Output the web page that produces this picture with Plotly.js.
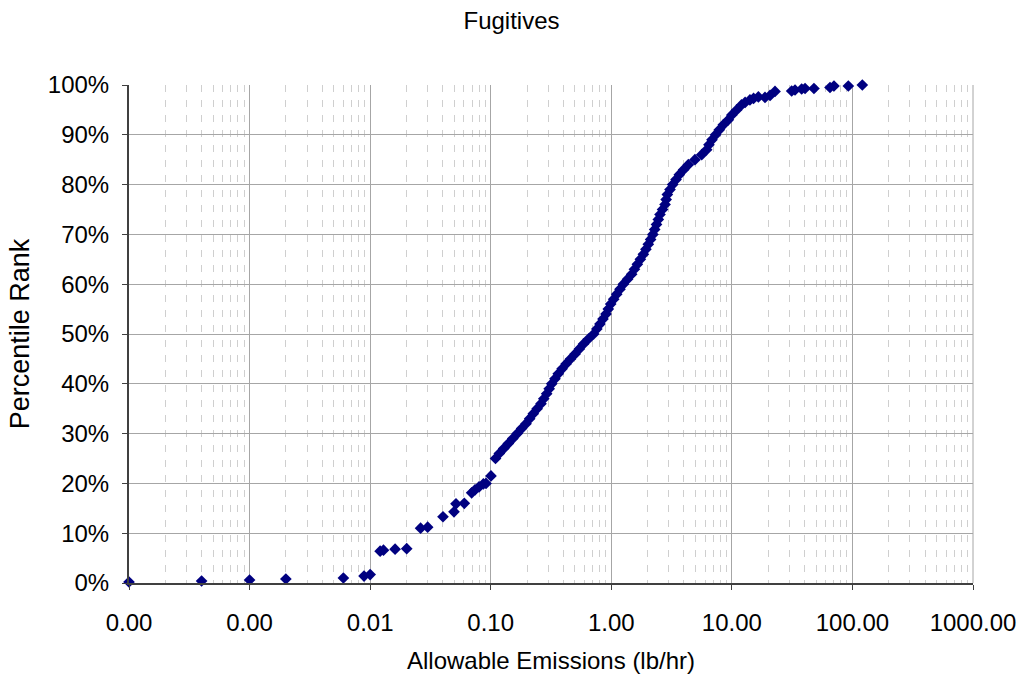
<!DOCTYPE html>
<html>
<head>
<meta charset="utf-8">
<script src="https://cdn.plot.ly/plotly-3.0.1.min.js"></script>
<style>html,body{margin:0;padding:0;background:#fff;}#chart{width:1023px;height:677px;}</style>
</head>
<body>
<div id="chart"></div>
<script>
// Allowable emissions (lb/hr)
var emissions = [
  0.0001, 0.0004, 0.001, 0.002, 0.006, 0.0089, 0.01,
  0.0121, 0.0129, 0.0161, 0.0201, 0.0262, 0.030, 0.0402, 0.0496, 0.0515, 0.0604,
  0.0695, 0.0741, 0.080, 0.0869, 0.0914, 0.1005,
  0.1096, 0.1178, 0.1282, 0.1400, 0.1524, 0.1660, 0.1803, 0.1963, 0.2104, 0.2254,
  0.2427, 0.2612, 0.2754, 0.2911, 0.3055, 0.3206, 0.3412, 0.3631, 0.3908, 0.4217,
  0.4592, 0.5012, 0.5433, 0.5888, 0.6457, 0.7145, 0.7586, 0.8054, 0.8531, 0.9036,
  0.9441, 0.9886, 1.0471, 1.1092, 1.1803, 1.2589, 1.3646, 1.4757, 1.5560, 1.6444,
  1.7418, 1.8450, 1.9364, 2.0277, 2.1184, 2.2131, 2.2909, 2.3714, 2.4547, 2.5351,
  2.6607, 2.7925, 2.8510, 2.9174, 3.0690, 3.2285, 3.4434, 3.6644, 3.9811, 4.3551,
  4.9431, 5.6234, 6.1802, 6.4565, 6.8391, 7.3282, 7.8705, 8.4918, 9.3541, 10.0,
  10.965, 12.023, 12.882, 14.125, 15.136, 16.596,
  18.84, 20.75, 22.80, 31.33, 33.42, 37.93, 40.46, 47.97, 65.16, 70.31, 92.47, 120.8
];
// Percentile rank (%)
var percentileRank = [
  0.2, 0.4, 0.6, 0.8, 1.0, 1.4, 1.7,
  6.4, 6.6, 6.8, 6.9, 11.0, 11.2, 13.3, 14.3, 15.9, 16.0,
  18.1, 18.7, 19.3, 19.9, 20.0, 21.5,
  25, 26, 27, 28, 29, 30, 31, 32, 33, 34,
  35, 36, 37, 38, 39, 40, 41, 42, 43, 44,
  45, 46, 47, 48, 49, 50, 51, 52, 53, 54,
  55, 56, 57, 58, 59, 60, 61, 62, 63, 64,
  65, 66, 67, 68, 69, 70, 71, 72, 73, 74,
  75, 76, 77, 78, 79, 80, 81, 82, 83, 84,
  85, 86, 87, 88, 89, 90, 91, 92, 93, 94,
  95, 96, 96.5, 97, 97.3, 97.6,
  97.5, 97.9, 98.7, 98.8, 99.0, 99.2, 99.3, 99.3, 99.5, 99.8, 99.8, 100
];
var xTickVals = [0.0001, 0.001, 0.01, 0.1, 1, 10, 100, 1000];
var xTickText = ['0.00', '0.00', '0.01', '0.10', '1.00', '10.00', '100.00', '1000.00'];
var yTickVals = [0, 10, 20, 30, 40, 50, 60, 70, 80, 90, 100];
var yTickText = ['0%', '10%', '20%', '30%', '40%', '50%', '60%', '70%', '80%', '90%', '100%'];

var HF = {family: 'Liberation Sans, Arial, sans-serif', size: 24, color: '#000'};
var VF = {family: 'Liberation Sans, Arial, sans-serif', size: 27, color: '#000'};

var trace = {
  x: emissions, y: percentileRank, type: 'scatter', mode: 'markers',
  cliponaxis: false,
  marker: {symbol: 'diamond', size: 9, color: '#000080', line: {width: 0}},
  hoverinfo: 'x+y'
};
var layout = {
  width: 1023, height: 677,
  margin: {l: 129, r: 50, t: 85, b: 94},
  paper_bgcolor: '#fff', plot_bgcolor: '#fff',
  showlegend: false,
  font: HF,
  title: {text: 'Fugitives', font: HF,
          x: 0.5, xref: 'container', xanchor: 'center', y: 0.97, yref: 'container', yanchor: 'middle'},
  xaxis: {
    type: 'log', range: [-4, 3],
    tickmode: 'array', tickvals: xTickVals, ticktext: xTickText,
    ticks: 'outside', ticklen: 5, tickcolor: '#404040', tickwidth: 1,
    ticklabelstandoff: 12,
    showline: true, linecolor: '#404040', linewidth: 2,
    showgrid: true, gridcolor: '#a6a6a6', gridwidth: 1,
    zeroline: false,
    minor: {dtick: 'D1', showgrid: true, gridcolor: '#cfcfcf', gridwidth: 1, griddash: '7px,8px', ticks: ''},
    tickfont: HF,
    title: {text: 'Allowable Emissions (lb/hr)', font: HF, standoff: 17}
  },
  yaxis: {
    range: [0, 100],
    tickmode: 'array', tickvals: yTickVals, ticktext: yTickText,
    ticks: 'outside', ticklen: 5, tickcolor: '#404040', tickwidth: 1,
    ticklabelstandoff: 8,
    showline: true, linecolor: '#404040', linewidth: 2,
    showgrid: true, gridcolor: '#a6a6a6', gridwidth: 1,
    zeroline: false,
    tickfont: HF,
    title: {text: 'Percentile Rank', font: VF, standoff: 10}
  },
  shapes: [{type: 'line', xref: 'paper', yref: 'paper', x0: 1, x1: 1, y0: 0, y1: 1,
            line: {color: '#a6a6a6', width: 1}}]
};
Plotly.newPlot('chart', [trace], layout, {displayModeBar: false, staticPlot: true});
</script>
</body>
</html>
